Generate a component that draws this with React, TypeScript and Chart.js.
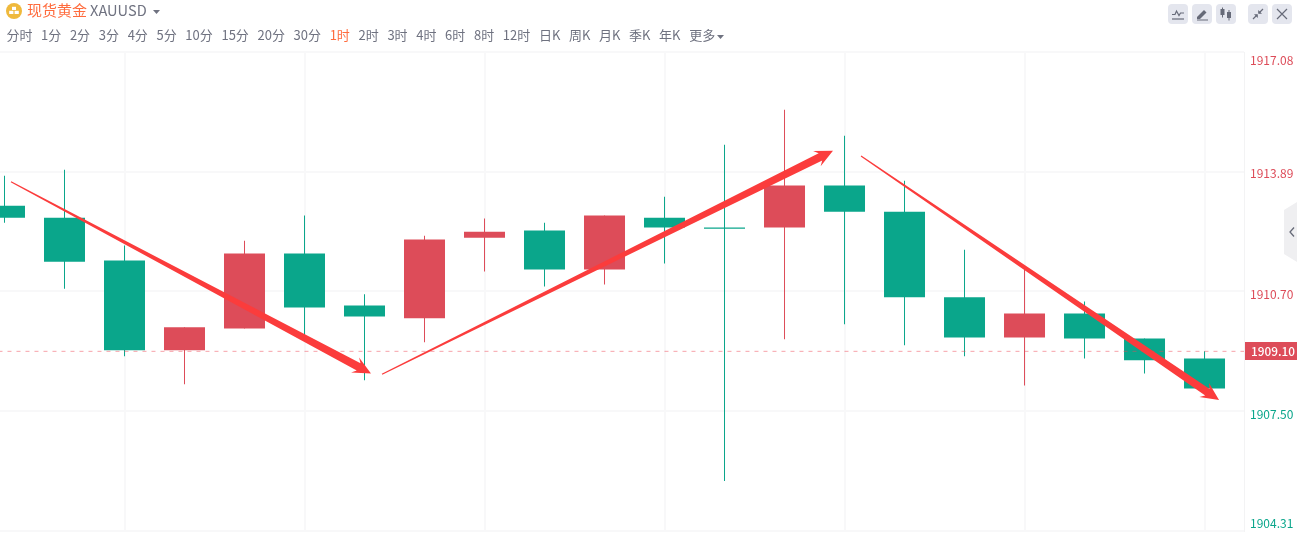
import React, { useEffect, useRef } from "react";
import { Chart, registerables } from "chart.js";

Chart.register(...registerables);

const positions = [0, 1, 2, 3, 4, 5, 6, 7, 8, 9, 10, 11, 12, 13, 14, 15, 16, 17, 18, 19, 20];
const opens = [1912.98, 1912.66, 1911.52, 1909.13, 1909.71, 1911.71, 1910.32, 1909.98, 1912.13, 1912.32, 1911.28, 1912.66, 1912.40, 1912.40, 1913.52, 1912.82, 1910.54, 1909.47, 1910.11, 1909.44, 1908.91];
const closes = [1912.66, 1911.49, 1909.13, 1909.74, 1911.71, 1910.27, 1910.03, 1912.08, 1912.29, 1911.28, 1912.72, 1912.40, 1912.37, 1913.52, 1912.82, 1910.54, 1909.47, 1910.11, 1909.44, 1908.86, 1908.11];
const highs = [1913.78, 1913.94, 1911.92, 1909.74, 1912.05, 1912.72, 1910.62, 1912.18, 1912.64, 1912.53, 1912.72, 1913.22, 1914.61, 1915.54, 1914.85, 1913.65, 1911.81, 1911.33, 1910.43, 1909.44, 1909.10];
const lows = [1912.53, 1910.77, 1908.97, 1908.22, 1909.71, 1909.39, 1908.33, 1909.34, 1911.23, 1910.83, 1910.88, 1911.44, 1905.64, 1909.42, 1909.82, 1909.26, 1908.97, 1908.19, 1908.91, 1908.51, 1908.11];

const priceTicks = [1917.08, 1913.89, 1910.7, 1907.5, 1904.31];
const priceLabels = ["1917.08", "1913.89", "1910.70", "1907.50", "1904.31"];
const timeGrid = [2, 5, 8, 11, 14, 17, 20];
const lastPrice = 1909.1;
const lastPriceLabel = "1909.10";

const arrowStarts = [
  { x: 0.108, y: 1913.62 },
  { x: 6.292, y: 1908.49 },
  { x: 14.275, y: 1914.31 },
];
const arrowEnds = [
  { x: 6.108, y: 1908.51 },
  { x: 13.808, y: 1914.45 },
  { x: 20.242, y: 1907.8 },
];

const periods = ["分时", "1分", "2分", "3分", "4分", "5分", "10分", "15分", "20分", "30分", "1时", "2时", "3时", "4时", "6时", "8时", "12时", "日K", "周K", "月K", "季K", "年K", "更多"];
const activePeriod = "1时";

const RED = "#dd4c59";
const GREEN = "#0aa68b";
const GRID = "#f8f8f9";
const FONT = '"Noto Sans CJK SC", "Noto Sans", sans-serif';
// distance of each price label below its grid line, in pixels
const labelShift = [8, 1.5, 3, 3.5, 8];

const overlayPlugin = {
  id: "overlay",
  afterDatasetsDraw(chart: any) {
    const { ctx, scales } = chart;
    const sx = scales.x;
    const sy = scales.y;
    ctx.save();
    ctx.fillStyle = "#fb3c3c";
    arrowStarts.forEach((s, i) => {
      const e = arrowEnds[i];
      const x0 = sx.getPixelForValue(s.x);
      const y0 = sy.getPixelForValue(s.y);
      const x1 = sx.getPixelForValue(e.x);
      const y1 = sy.getPixelForValue(e.y);
      const len = Math.hypot(x1 - x0, y1 - y0);
      const ux = (x1 - x0) / len;
      const uy = (y1 - y0) / len;
      const nx = -uy;
      const ny = ux;
      const headLen = 18;
      const neckHalf = 4;
      const headHalf = 8.5;
      const bx = x1 - ux * headLen;
      const by = y1 - uy * headLen;
      const nbx = x1 - ux * (headLen - 4);
      const nby = y1 - uy * (headLen - 4);
      ctx.beginPath();
      ctx.moveTo(x0 + nx * 0.6, y0 + ny * 0.6);
      ctx.lineTo(nbx + nx * neckHalf, nby + ny * neckHalf);
      ctx.lineTo(bx + nx * headHalf, by + ny * headHalf);
      ctx.lineTo(x1, y1);
      ctx.lineTo(bx - nx * headHalf, by - ny * headHalf);
      ctx.lineTo(nbx - nx * neckHalf, nby - ny * neckHalf);
      ctx.lineTo(x0 - nx * 0.6, y0 - ny * 0.6);
      ctx.closePath();
      ctx.fill();
    });
    const py = Math.round(sy.getPixelForValue(lastPrice));
    ctx.fillStyle = RED;
    ctx.fillRect(chart.chartArea.right + 1, py - 9, 53, 18);
    ctx.fillStyle = "#ffffff";
    ctx.font = `500 11.8px ${FONT}`;
    ctx.textAlign = "left";
    ctx.textBaseline = "middle";
    ctx.fillText(lastPriceLabel, chart.chartArea.right + 7, py + 0.5);
    ctx.restore();
  },
};

const Icon = ({ left, children }: { left: number; children: React.ReactNode }) => (
  <div style={{ position: "absolute", left, top: 4, width: 20, height: 20, borderRadius: 4, background: "#e4e6ee" }}>
    <svg width="20" height="20" viewBox="0 0 20 20">{children}</svg>
  </div>
);

export default function App() {
  const ref = useRef<HTMLCanvasElement | null>(null);

  useEffect(() => {
    document.body.style.margin = "0";
    document.body.style.background = "#ffffff";
    const colors = opens.map((o, i) => (closes[i] >= o ? RED : GREEN));
    const chart = new Chart(ref.current as HTMLCanvasElement, {
      type: "bar",
      data: {
        datasets: [
          {
            type: "line",
            data: [
              { x: -1, y: lastPrice },
              { x: 22, y: lastPrice },
            ],
            borderColor: "rgba(240,70,85,0.5)",
            borderWidth: 1,
            borderDash: [4, 5],
            pointRadius: 0,
            order: 0,
          },
          {
            data: positions.map((x, i) => ({ x, y: [lows[i], highs[i]] })),
            backgroundColor: colors,
            barThickness: 1,
            grouped: false,
            borderWidth: 0,
            inflateAmount: 0,
            order: 2,
          },
          {
            data: positions.map((x, i) => ({ x, y: [opens[i], closes[i]] })),
            backgroundColor: colors,
            barThickness: 41,
            grouped: false,
            borderWidth: 0,
            inflateAmount: 0,
            minBarLength: 1,
            order: 1,
          },
        ] as any,
      },
      options: {
        responsive: false,
        devicePixelRatio: 1,
        animation: false,
        layout: { padding: { top: 52, bottom: 21, left: 0, right: 0 } },
        plugins: { legend: { display: false }, tooltip: { enabled: false } },
        scales: {
          x: {
            type: "linear",
            offset: false,
            min: -0.075,
            max: 20.658,
            afterBuildTicks: (s: any) => {
              s.ticks = timeGrid.map((value) => ({ value }));
            },
            afterFit: (s: any) => {
              s.height = 0;
            },
            ticks: { display: false },
            grid: { color: GRID, lineWidth: 2, drawTicks: false, offset: false },
            border: { display: false },
          },
          y: {
            type: "linear",
            position: "right",
            min: 1904.31,
            max: 1917.08,
            afterBuildTicks: (s: any) => {
              s.ticks = priceTicks.map((value) => ({ value }));
            },
            afterFit: (s: any) => {
              s.width = 53;
            },
            ticks: {
              padding: 6,
              autoSkip: false,
              font: (c: any) => ({ family: FONT, size: 12, lineHeight: (labelShift[c.index] * 2) / 12 }),
              color: (c: any) => (c.tick.value > lastPrice ? RED : GREEN),
              callback: (value: any) => {
                const i = priceTicks.indexOf(Number(value));
                const text = priceLabels[i];
                return i === priceTicks.length - 1 ? [text, ""] : ["", text];
              },
            },
            grid: { color: GRID, lineWidth: 2, drawTicks: false },
            border: { display: true, color: "#f3f3f4", width: 1 },
          },
        },
      } as any,
      plugins: [overlayPlugin],
    });
    return () => chart.destroy();
  }, []);

  return (
    <div style={{ position: "relative", width: 1297, height: 553, overflow: "hidden", fontFamily: FONT, background: "#fff" }}>
      <canvas ref={ref} width={1297} height={553} style={{ position: "absolute", left: 0, top: 0, display: "block" }} />
      <svg style={{ position: "absolute", left: 6, top: 3 }} width="16" height="16" viewBox="0 0 16 16">
        <circle cx="8" cy="8" r="8" fill="#efb93c" />
        <rect x="6" y="3.8" width="4" height="3.2" fill="#fff" />
        <rect x="3.2" y="7.8" width="4.2" height="3.2" fill="#fff" />
        <rect x="8.6" y="7.8" width="4.2" height="3.2" fill="#fff" />
      </svg>
      <div style={{ position: "absolute", left: 27, top: -1, height: 22, lineHeight: "22px", fontSize: 15, whiteSpace: "nowrap", color: "#6f7280" }}>
        <span style={{ color: "#ff6b3d" }}>现货黄金</span>
        <span style={{ marginLeft: 3, fontSize: 14.6 }}>XAUUSD</span>
      </div>
      <svg style={{ position: "absolute", left: 153, top: 10 }} width="7" height="4" viewBox="0 0 7 4">
        <path d="M0 0H7L3.5 4Z" fill="#6f7280" />
      </svg>
      <div style={{ position: "absolute", left: 6.4, top: 25, height: 20, lineHeight: "20px", display: "flex", gap: 8.65, fontSize: 13, whiteSpace: "nowrap", color: "#6f7280" }}>
        {periods.map((p) => (
          <span key={p} style={{ color: p === activePeriod ? "#ff6b3d" : "#6f7280" }}>{p}</span>
        ))}
      </div>
      <svg style={{ position: "absolute", left: 717, top: 35 }} width="7" height="4" viewBox="0 0 7 4">
        <path d="M0 0H7L3.5 4Z" fill="#6f7280" />
      </svg>
      <Icon left={1168}>
        <path d="M4 10.5H7L8.5 7L11 11.5L12.5 9H16" fill="none" stroke="#666a78" strokeWidth="1.2" />
        <path d="M4 15H16" stroke="#666a78" strokeWidth="1.2" />
      </Icon>
      <Icon left={1192}>
        <path d="M5 13L12 6L14.5 8.5L8 15H5Z" fill="#666a78" />
        <path d="M5 16H16" stroke="#666a78" strokeWidth="1" />
      </Icon>
      <Icon left={1216}>
        <path d="M6.5 3.5V13.5M13 6V16.5" stroke="#666a78" strokeWidth="1" />
        <rect x="4.5" y="5" width="4" height="6" fill="#666a78" />
        <rect x="11" y="8" width="4" height="6" fill="#666a78" />
      </Icon>
      <Icon left={1248}>
        <path d="M5 15L9 11M15 5L11 9" stroke="#666a78" strokeWidth="1.2" />
        <path d="M6 10.2H9.8V14ZM14 9.8H10.2V6Z" fill="#666a78" />
      </Icon>
      <Icon left={1272}>
        <path d="M5 5L15 15M15 5L5 15" stroke="#666a78" strokeWidth="1.2" />
      </Icon>
      <svg style={{ position: "absolute", left: 1284, top: 202 }} width="13" height="60" viewBox="0 0 13 60">
        <path d="M13 0V60L0 52V8Z" fill="#efeff1" />
        <path d="M10 25.5L6 30L10 34.5" fill="none" stroke="#666a78" strokeWidth="1.3" />
      </svg>
    </div>
  );
}
